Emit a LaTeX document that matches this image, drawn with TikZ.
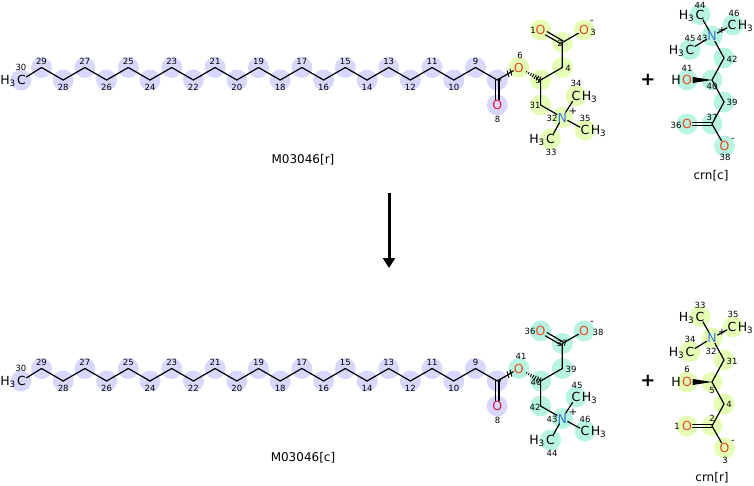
\documentclass[tikz,border=0pt]{standalone}
\usepackage{fontspec}
\setmainfont{DejaVu Sans}
\usetikzlibrary{positioning,calc,arrows.meta}

\definecolor{acyl}{RGB}{215,215,255}
\definecolor{carA}{RGB}{230,255,182}
\definecolor{carB}{RGB}{184,245,224}
\definecolor{oxy}{RGB}{232,72,32}
\definecolor{oxr}{RGB}{228,24,64}
\definecolor{nit}{RGB}{52,116,210}

\tikzset{
  bnd/.style={line width=1.2pt, line cap=round},
  hash/.style={line width=0.9pt},
  atm/.style={inner sep=0.5pt, font=\fontsize{12.5}{12.5}\selectfont},
  ox/.style={atm, text=oxy},
  nx/.style={atm, text=nit},
  idx/.style={inner sep=0pt, font=\fontsize{8.5}{8.5}\selectfont},
  chg/.style={inner sep=0pt, font=\fontsize{10}{10}\selectfont},
  plus/.style={inner sep=0pt, font=\fontsize{18}{18}\selectfont\bfseries},
  molname/.style={inner sep=0pt, font=\fontsize{12}{12}\selectfont},
}

\begin{document}
\begin{tikzpicture}[x=1pt,y=-1pt]
	\useasboundingbox (0,0) rectangle (754,485);

	% acylcarnitine, top and bottom
	\foreach \dy/\cc/\pp in {0/carA/t,301/carB/b}{
	\begin{scope}[shift={(0,\dy)}]
	\foreach \n in {9,...,29}{
	    \pgfmathsetmacro\cx{41.5+(29-\n)*21.7}
	    \pgfmathsetmacro\cy{mod(\n,2)==1 ? 67.5 : 80}
	    \pgfmathsetmacro\ly{mod(\n,2)==1 ? 61.5 : 87}
	    \fill[acyl] (\cx,\cy) circle (10.5pt);
	    \coordinate (\pp C\n) at (\cx,\cy);
	    \node[idx] at (\cx,\ly) {\n};
	}
	\foreach \p in {(21,80),(497.2,80),(497.2,105)}
	    \fill[acyl] \p circle (10.5pt);
	\foreach \p in {(518.9,67.5),(540.6,80),(562.3,67.5),(562.3,42.5),(540.6,30),(584,30),(540.6,105),(562.3,117.5),(576,96),(585,130),(550.5,139)}
	    \fill[\cc] \p circle (10.5pt);

	\node[atm] (\pp C30) at (21.5,80) {C};
	\node[atm, base left=0pt of \pp C30] {H\textsubscript{3}};
	\coordinate (\pp C7) at (497.2,80);
	\node[atm, text=oxr] (\pp O8) at (497.2,105) {O};
	\node[ox] (\pp O6) at (518.9,67.5) {O};
	\coordinate (\pp C5) at (540.6,80);
	\coordinate (\pp C4) at (562.3,67.5);
	\coordinate (\pp C2) at (562.3,42.5);
	\node[ox] (\pp O1) at (540.6,30) {O};
	\node[ox] (\pp O3) at (584,30) {O};
	\node[chg] at (592,22) {-};
	\coordinate (\pp C31) at (540.6,105);
	\node[nx] (\pp N) at (562.3,117.5) {N};
	\node[chg] at (573,111) {+};
	\node[atm] (\pp Ca) at (576,96) {C};
	\node[atm, base right=0pt of \pp Ca] {H\textsubscript{3}};
	\node[atm] (\pp Cb) at (585,130) {C};
	\node[atm, base right=0pt of \pp Cb] {H\textsubscript{3}};
	\node[atm] (\pp Cc) at (550.5,139) {C};
	\node[atm, base left=0pt of \pp Cc] {H\textsubscript{3}};

	\draw[bnd] (\pp C30) -- (\pp C29);
	\foreach \n [evaluate=\n as \m using int(\n-1)] in {10,...,29}
	    \draw[bnd] (\pp C\n) -- (\pp C\m);
	\draw[bnd] (\pp C9) -- (\pp C7) -- (\pp O6);
	\draw[bnd, transform canvas={xshift=1.8pt}] (\pp C7) -- (\pp O8);
	\draw[bnd, transform canvas={xshift=-1.8pt}] (\pp C7) -- (\pp O8);
	\draw[bnd] (\pp C5) -- (\pp C4) -- (\pp C2) -- (\pp O3);
	\draw[bnd, transform canvas={shift={(0.9pt,1.56pt)}}] (\pp C2) -- (\pp O1);
	\draw[bnd, transform canvas={shift={(-0.9pt,-1.56pt)}}] (\pp C2) -- (\pp O1);
	\draw[bnd] (\pp C5) -- (\pp C31) -- (\pp N) -- (\pp Ca);
	\draw[bnd] (\pp N) -- (\pp Cb);
	\draw[bnd] (\pp N) -- (\pp Cc);
	\foreach \k in {0.35,0.45,...,0.95}
	    \draw[hash] ($(\pp O6)!\k!(\pp C5)!{(0.5+4*(\k-0.3))*1pt}!90:(\pp C5)$) -- ($(\pp O6)!\k!(\pp C5)!{(0.5+4*(\k-0.3))*1pt}!-90:(\pp C5)$);
	\foreach \k in {0.5,0.63}
	    \draw[hash] ($(\pp C7)!\k!(\pp O6)!3.5pt!75:(\pp O6)$) -- ($(\pp C7)!\k!(\pp O6)!3.5pt!-105:(\pp O6)$);

	\node[idx] at (21,67) {30};
	\node[idx] at (499,82) {7};
	\node[idx] at (497.5,119) {8};
	\end{scope}
	}

	\foreach \k/\x/\y in {6/520/55, 5/538/80, 4/568/68, 2/560/43, 1/533/30, 3/593/32, 31/535/105, 32/552/118, 34/576/83, 35/585/118, 33/551/152}
	    \node[idx] at (\x,\y) {\k};
	\foreach \k/\x/\y in {36/530/331, 38/598/332, 37/562/343, 41/521/356, 39/571/369, 40/536/382, 42/535/407, 43/552/419, 45/577/385, 46/585/419, 44/552/453}
	    \node[idx] at (\x,\y) {\k};

	% carnitine, top and bottom
	\foreach \dy/\cc/\pp in {0/carB/u,302/carA/v}{
	\begin{scope}[shift={(0,\dy)}]
	\foreach \p in {(712,36),(700,14.5),(733,25),(690,49.5),(724,58),(712,80),(687,80),(724,102),(712,124),(687,124),(724.5,146)}
	    \fill[\cc] \p circle (10.5pt);
	\node[nx] (\pp N) at (712,36) {N};
	\node[chg] at (722,30) {+};
	\node[atm] (\pp Ca) at (700,14.5) {C};
	\node[atm, base left=0pt of \pp Ca] {H\textsubscript{3}};
	\node[atm] (\pp Cb) at (732,25) {C};
	\node[atm, base right=0pt of \pp Cb] {H\textsubscript{3}};
	\node[atm] (\pp Cc) at (690,49.5) {C};
	\node[atm, base left=0pt of \pp Cc] {H\textsubscript{3}};
	\coordinate (\pp C1) at (724,58);
	\coordinate (\pp C2) at (712,80);
	\node[ox] (\pp O1) at (687,80) {O};
	\node[atm, base left=0pt of \pp O1] {H};
	\coordinate (\pp C3) at (724,102);
	\coordinate (\pp C4) at (712,124);
	\node[ox] (\pp O2) at (687,124) {O};
	\node[ox] (\pp O3) at (724.5,146) {O};
	\node[chg] at (733,140) {-};

	\draw[bnd] (\pp Ca) -- (\pp N) -- (\pp Cb);
	\draw[bnd] (\pp Cc) -- (\pp N) -- (\pp C1) -- (\pp C2) -- (\pp C3) -- (\pp C4) -- (\pp O3);
	\draw[bnd, transform canvas={yshift=1.8pt}] (\pp C4) -- (\pp O2);
	\draw[bnd, transform canvas={yshift=-1.8pt}] (\pp C4) -- (\pp O2);
	\fill (\pp C2) -- ([yshift=3pt]\pp O1.east) -- ([yshift=-3pt]\pp O1.east) -- cycle;
	\end{scope}
	}

	\foreach \k/\x/\y in {44/700/5, 46/734/13, 45/690/38, 43/702/38, 42/732/59, 41/687/68, 40/712/86, 39/732/102, 37/712/117, 36/676/125, 38/725/157}
	    \node[idx] at (\x,\y) {\k};
	\foreach \k/\x/\y in {33/700/305, 35/733/314, 34/690/339, 32/711/351, 31/732/361, 6/687/369, 5/712/390, 4/729/404, 2/712/418, 1/677/426, 3/725/460}
	    \node[idx] at (\x,\y) {\k};

	% names, plus signs, arrow
	\node[molname] (mr) at (303,160) {M03046[r]};
	\node[molname] (mc) at (303,458) {M03046[c]};
	\node[molname] (cc) at (711,176) {crn[c]};
	\node[molname] (cr) at (712,478) {crn[r]};
	\node[plus] (plA) at (648,80) {+};
	\node[plus] (plB) at (648,381) {+};
	\coordinate (arrS) at (389,193);
	\coordinate (arrE) at (389,268);
	\draw[line width=3pt, -{Triangle[width=12pt,length=10pt]}] (arrS) -- (arrE);
\end{tikzpicture}
\end{document}
